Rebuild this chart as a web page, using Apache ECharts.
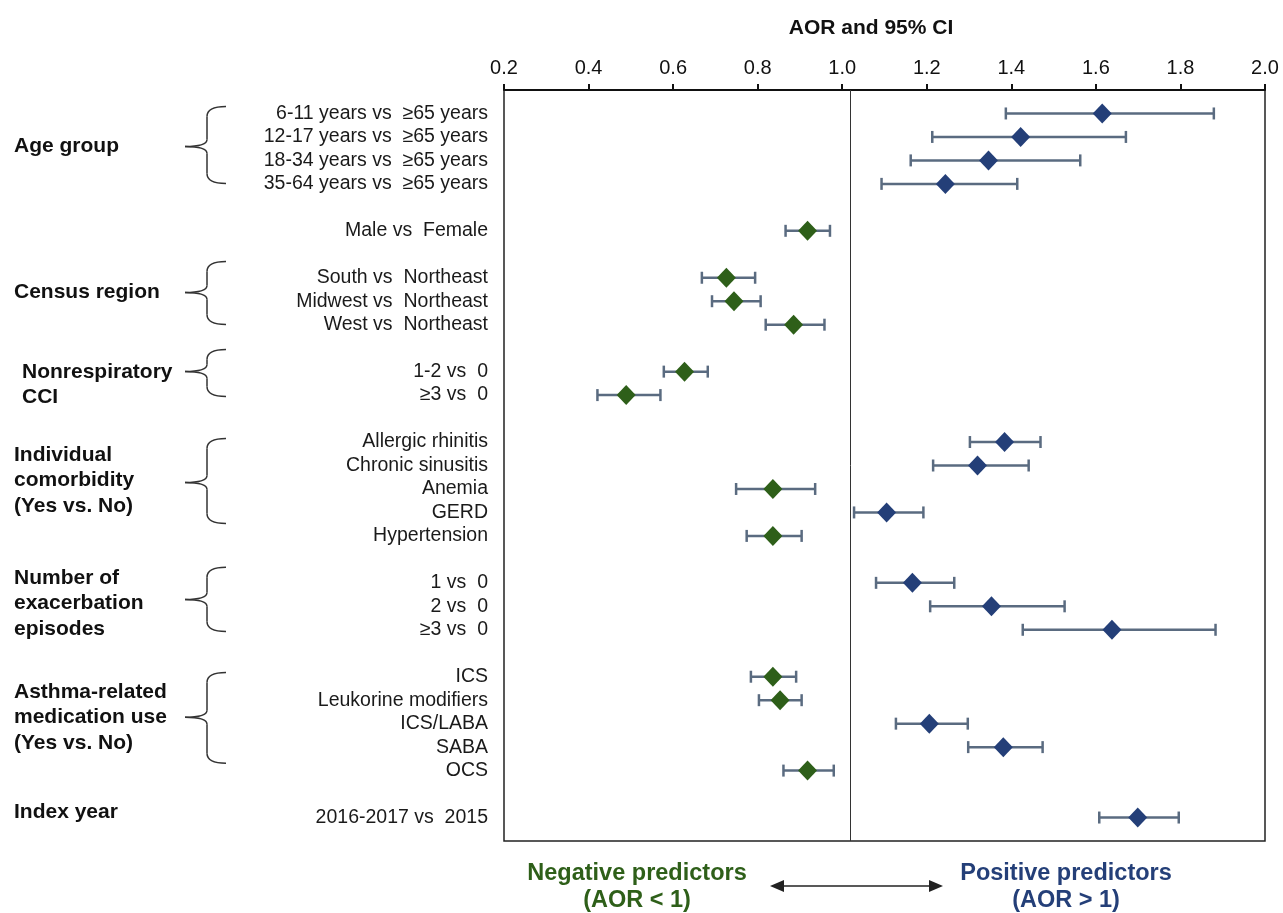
<!DOCTYPE html>
<html>
<head>
<meta charset="utf-8">
<script src="https://cdn.jsdelivr.net/npm/echarts@6/dist/echarts.min.js"></script>
<style>
html,body{margin:0;padding:0;background:#fff;}
#main{width:1283px;height:913px;}
</style>
</head>
<body>
<div id="main"></div>
<script>
// rows from top to bottom, '' = spacer row
var rowLabels = [
  '6-11 years vs  \u226565 years', '12-17 years vs  \u226565 years', '18-34 years vs  \u226565 years', '35-64 years vs  \u226565 years', '',
  'Male vs  Female', '',
  'South vs  Northeast', 'Midwest vs  Northeast', 'West vs  Northeast', '',
  '1-2 vs  0', '\u22653 vs  0', '',
  'Allergic rhinitis', 'Chronic sinusitis', 'Anemia', 'GERD', 'Hypertension', '',
  '1 vs  0', '2 vs  0', '\u22653 vs  0', '',
  'ICS', 'Leukorine modifiers', 'ICS/LABA', 'SABA', 'OCS', '',
  '2016-2017 vs  2015'
];
var aor   = [1.615, 1.422, 1.346, 1.244, null, 0.918, null, 0.726, 0.744, 0.885, null, 0.627, 0.489, null,
             1.384, 1.320, 0.836, 1.105, 0.836, null, 1.166, 1.353, 1.638, null, 0.836, 0.853, 1.206, 1.381, 0.918, null, 1.699];
var lower = [1.387, 1.213, 1.162, 1.093, null, 0.866, null, 0.668, 0.692, 0.819, null, 0.578, 0.421, null,
             1.302, 1.215, 0.749, 1.028, 0.774, null, 1.080, 1.208, 1.427, null, 0.784, 0.803, 1.127, 1.298, 0.861, null, 1.608];
var upper = [1.879, 1.671, 1.563, 1.414, null, 0.971, null, 0.794, 0.807, 0.958, null, 0.682, 0.570, null,
             1.469, 1.441, 0.936, 1.192, 0.904, null, 1.265, 1.526, 1.883, null, 0.891, 0.904, 1.297, 1.474, 0.980, null, 1.796];
var refLine = 1.02;

var groupNames = ['Age group', 'Census region', 'Nonrespiratory\nCCI', 'Individual\ncomorbidity\n(Yes vs. No)',
                  'Number of\nexacerbation\nepisodes', 'Asthma-related\nmedication use\n(Yes vs. No)', 'Index year'];
// label centre row, label x, brace [top, tip, bottom] rows (null = no brace)
var groupLayout = [
  [1.41, 14, [-0.30, 1.41, 2.98]],
  [7.63, 14, [6.31, 7.63, 8.99]],
  [11.55, 22, [10.06, 10.99, 12.06]],
  [15.64, 14, [13.85, 15.72, 17.47]],
  [20.88, 14, [19.34, 20.71, 22.07]],
  [25.73, 14, [23.82, 25.73, 27.69]],
  [29.78, 14, null]
];

var GREEN = '#2e5f19', NAVY = '#243f78', BAR = '#5a6b80';
var FONT = 'Arial, "Liberation Sans", sans-serif';

var bars = [], points = [];
for (var i = 0; i < rowLabels.length; i++) {
  if (aor[i] == null) continue;
  bars.push([i, lower[i], upper[i]]);
  points.push([aor[i], i]);
}

var chart = echarts.init(document.getElementById('main'));
chart.setOption({
  animation: false,
  textStyle: {fontFamily: FONT},
  title: {
    text: 'AOR and 95% CI', left: 866, top: 13, textAlign: 'center',
    textStyle: {fontSize: 21, fontWeight: 'bold', color: '#111', fontFamily: FONT}
  },
  grid: {left: 504, right: 18, top: 90, bottom: 72, show: true, borderColor: '#222', borderWidth: 1.5, backgroundColor: 'transparent'},
  xAxis: {
    type: 'value', position: 'top', min: 0.2, max: 2.0, interval: 0.2,
    axisLine: {show: true, onZero: false, lineStyle: {color: '#111', width: 2}},
    axisTick: {show: true, length: 6, lineStyle: {color: '#111', width: 2}},
    splitLine: {show: false},
    axisLabel: {fontSize: 20, color: '#111', margin: 12, formatter: function (v) { return v.toFixed(1); }}
  },
  yAxis: {
    type: 'value', inverse: true, min: -1, max: 31, interval: 1,
    axisLine: {show: false}, axisTick: {show: false}, splitLine: {show: false},
    axisLabel: {fontSize: 19.5, color: '#1a1a1a', margin: 16, formatter: function (v) { return rowLabels[v] || ''; }}
  },
  series: [
    {
      type: 'custom', data: bars, encode: {x: [1, 2], y: 0}, z: 2,
      renderItem: function (params, api) {
        var y = api.value(0);
        var a = api.coord([api.value(1), y]);
        var b = api.coord([api.value(2), y]);
        var h = 6;
        var st = {stroke: BAR, lineWidth: 2.5};
        return {type: 'group', children: [
          {type: 'line', shape: {x1: a[0], y1: a[1], x2: b[0], y2: b[1]}, style: st},
          {type: 'line', shape: {x1: a[0], y1: a[1] - h, x2: a[0], y2: a[1] + h}, style: st},
          {type: 'line', shape: {x1: b[0], y1: b[1] - h, x2: b[0], y2: b[1] + h}, style: st}
        ]};
      }
    },
    {
      type: 'scatter', data: points, symbol: 'diamond', symbolSize: [19, 20], z: 3,
      itemStyle: {opacity: 1, color: function (p) { return p.value[0] < 1 ? GREEN : NAVY; }},
      markLine: {
        silent: true, symbol: 'none', label: {show: false},
        lineStyle: {color: '#333', width: 1, type: 'solid'},
        data: [{xAxis: refLine}]
      }
    }
  ]
});

var g = [];
var braceStyle = {fill: null, stroke: '#333', lineWidth: 1.5};
function curve(x1, y1, cx, cy, x2, y2) {
  return {type: 'bezierCurve', shape: {x1: x1, y1: y1, cpx1: cx, cpy1: cy, x2: x2, y2: y2}, style: braceStyle};
}
function seg(x1, y1, x2, y2) {
  return {type: 'line', shape: {x1: x1, y1: y1, x2: x2, y2: y2}, style: braceStyle};
}
groupNames.forEach(function (name, k) {
  var L = groupLayout[k];
  var yc = chart.convertToPixel({yAxisIndex: 0}, L[0]);
  g.push({type: 'text', left: L[1], top: yc - name.split('\n').length * 12.75,
    style: {text: name, font: 'bold 21px ' + FONT, fill: '#111', lineHeight: 25.5}});
  if (L[2]) {
    var t = chart.convertToPixel({yAxisIndex: 0}, L[2][0]);
    var m = chart.convertToPixel({yAxisIndex: 0}, L[2][1]);
    var b = chart.convertToPixel({yAxisIndex: 0}, L[2][2]);
    var vx = 207, tx = 185, ex = 226;
    g.push(curve(ex, t, vx, t, vx, t + 10));
    g.push(seg(vx, t + 10, vx, m - 7));
    g.push(curve(vx, m - 7, vx, m, tx, m));
    g.push(curve(tx, m, vx, m, vx, m + 7));
    g.push(seg(vx, m + 7, vx, b - 10));
    g.push(curve(vx, b - 10, vx, b, ex, b));
  }
});

// footer: predictor direction
g.push({type: 'text', x: 637, y: 887, style: {text: 'Negative predictors\n(AOR < 1)', font: 'bold 23.5px ' + FONT,
  fill: GREEN, align: 'center', verticalAlign: 'middle', lineHeight: 27}});
g.push({type: 'text', x: 1066, y: 887, style: {text: 'Positive predictors\n(AOR > 1)', font: 'bold 23.5px ' + FONT,
  fill: NAVY, align: 'center', verticalAlign: 'middle', lineHeight: 27}});
g.push({type: 'line', shape: {x1: 780, y1: 886, x2: 932, y2: 886}, style: {stroke: '#222', lineWidth: 1.5}});
g.push({type: 'polygon', shape: {points: [[770, 886], [784, 880], [784, 892]]}, style: {fill: '#222'}});
g.push({type: 'polygon', shape: {points: [[943, 886], [929, 880], [929, 892]]}, style: {fill: '#222'}});

chart.setOption({graphic: g});
</script>
</body>
</html>
